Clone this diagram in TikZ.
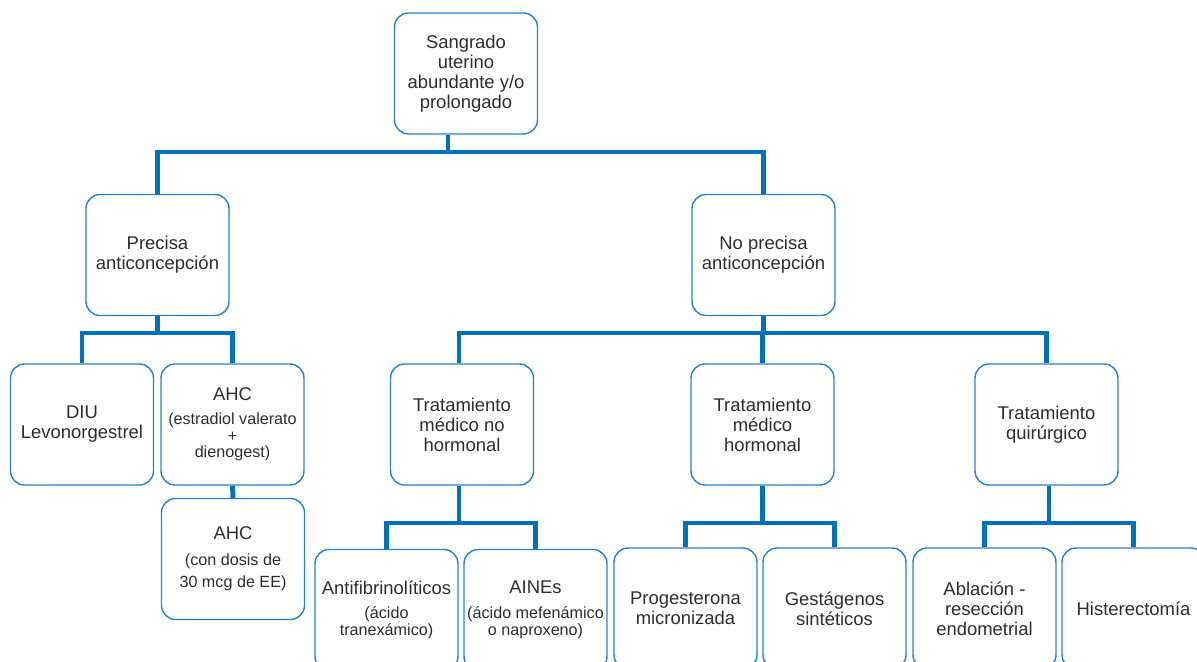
\documentclass[tikz,border=0pt]{standalone}
\usepackage{fontspec}
\setmainfont{Liberation Sans}

\definecolor{linkblue}{RGB}{0,114,188}
\definecolor{boxblue}{RGB}{36,130,200}
\definecolor{txtgray}{RGB}{45,45,45}

\newcommand{\mainfnt}{\fontsize{10.5}{11.4}\selectfont}

\begin{document}
\begin{tikzpicture}[x=0.02cm, y=-0.02cm,
        box/.style={draw=boxblue, line width=0.8pt, rounded corners=0.28cm,
            minimum width=2.86cm, minimum height=2.42cm, inner sep=1pt,
            align=center, text=txtgray, font=\mainfnt},
        boxsm/.style={box, font=\fontsize{9.2}{#1}\selectfont},
        link/.style={draw=linkblue, line width=2.8pt}]

        \useasboundingbox (0,0) rectangle (1197,662);

        % level 1
        \node[box] (sangrado) at (466,73.5) {Sangrado\\uterino\\abundante y/o\\prolongado};

        % level 2
        \node[box] (precisa) at (157.5,255) {Precisa\\anticoncepción};
        \node[box] (noprecisa) at (763.5,255) {No precisa\\anticoncepción};

        % level 3
        \node[box] (diu) at (82,424.5) {DIU\\Levonorgestrel};
        \node[boxsm=9.6] (ahc) at (232.5,424.5) {{\mainfnt AHC}\\[3.8pt](estradiol valerato\\+\\dienogest)};
        \node[box] (nohormonal) at (462,424.5) {Tratamiento\\médico no\\hormonal};
        \node[box] (hormonal) at (762.5,424.5) {Tratamiento\\médico\\hormonal};
        \node[box] (quirurgico) at (1046.5,424.5) {Tratamiento\\quirúrgico};

        % level 4
        \node[boxsm=12.4] (ahcdosis) at (233,559) {{\mainfnt AHC}\\[2.3pt](con dosis de\\30 mcg de EE)};
        \node[boxsm=9.6] (antifib) at (386.5,610) {{\mainfnt Antifibrinolíticos}\\[4.4pt](ácido\\tranexámico)};
        \node[boxsm=9.6] (aines) at (535.5,610) {{\mainfnt AINEs}\\[4.4pt](ácido mefenámico\\o naproxeno)};
        \node[box] (progest) at (685.5,608.5) {Progesterona\\micronizada};
        \node[box] (gestag) at (834.5,608.5) {Gestágenos\\sintéticos};
        \node[box] (ablacion) at (984.5,608.5) {Ablación -\\resección\\endometrial};
        \node[box] (histerec) at (1133.5,608.5) {Histerectomía};

        % split points
        \coordinate (split1) at (448,152);
        \coordinate (split2) at (157.5,333);
        \coordinate (split3) at (763.5,333);
        \coordinate (split4) at (459,523);
        \coordinate (split5) at (762.5,523);
        \coordinate (split6) at (1049,523);

        % sangrado
        \draw[link] (sangrado.south -| split1) -- (split1);
        \draw[link] (precisa.north) |- (split1) -| (noprecisa.north);

        % precisa
        \draw[link] (precisa.south) -- (split2);
        \draw[link] (diu.north) |- (split2) -| (ahc.north);
        \draw[link] (ahc.south) -- (ahcdosis.north);

        % no precisa
        \draw[link] (noprecisa.south) -- (split3);
        \draw[link] (nohormonal.north -| split4) |- (split3) -| (quirurgico.north);
        \draw[link] (hormonal.north) -- (hormonal.north |- split3);

        % tratamientos
        \draw[link] (nohormonal.south -| split4) -- (split4);
        \draw[link] (antifib.north) |- (split4) -| (aines.north);
        \draw[link] (hormonal.south) -- (split5);
        \draw[link] (progest.north) |- (split5) -| (gestag.north);
        \draw[link] (quirurgico.south -| split6) -- (split6);
        \draw[link] (ablacion.north) |- (split6) -| (histerec.north);
    \end{tikzpicture}
\end{document}
